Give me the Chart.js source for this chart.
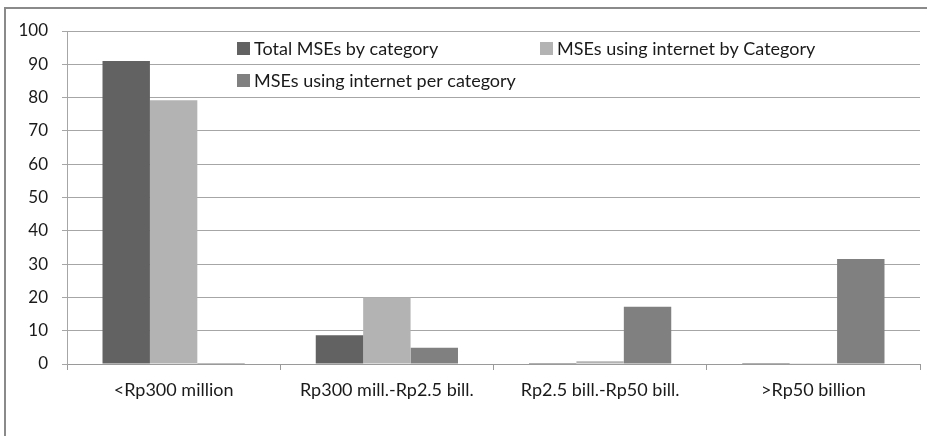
<!DOCTYPE html>
<html>
<head>
<meta charset="utf-8">
<script src="https://cdn.jsdelivr.net/npm/chart.js@4"></script>
<style>
html,body{margin:0;padding:0;background:#fff;}
#wrap{position:relative;width:927px;height:436px;}
canvas{display:block;}
</style>
</head>
<body>
<div id="wrap"><canvas id="c" width="927" height="436"></canvas></div>
<script>
const categories = ["<Rp300 million", "Rp300 mill.-Rp2.5 bill.", "Rp2.5 bill.-Rp50 bill.", ">Rp50 billion"];
const seriesNames = ["Total MSEs by category", "MSEs using internet by Category", "MSEs using internet per category"];
const totalMSEs = [91, 8.6, 0.3, 0.3];
const usingInternetByCategory = [79.2, 20, 0.8, 0.1];
const usingInternetPerCategory = [0.3, 4.9, 17.2, 31.5];
const seriesColors = ["#626262", "#b3b3b3", "#808080"];
const yTicks = [0, 10, 20, 30, 40, 50, 60, 70, 80, 90, 100];

const FONT = "Lato, 'Open Sans', sans-serif";

const frame = {
  id: 'frame',
  beforeDraw(chart) {
    const ctx = chart.ctx;
    ctx.save();
    ctx.strokeStyle = '#8a8a8a';
    ctx.lineWidth = 2;
    ctx.beginPath();
    ctx.moveTo(5, 436);
    ctx.lineTo(5, 8);
    ctx.lineTo(927, 8);
    ctx.stroke();
    ctx.restore();
  }
};

const legendPlugin = {
  id: 'innerLegend',
  afterDatasetsDraw(chart) {
    const ctx = chart.ctx;
    const a = chart.chartArea;
    const items = [
      {x: a.left + 170, y: a.top + 17},
      {x: a.left + 473, y: a.top + 17},
      {x: a.left + 170, y: a.top + 49}
    ];
    ctx.save();
    ctx.font = "18px " + FONT;
    ctx.textBaseline = 'middle';
    ctx.textAlign = 'left';
    chart.data.datasets.forEach((ds, i) => {
      const it = items[i];
      ctx.fillStyle = ds.backgroundColor;
      ctx.fillRect(it.x, it.y - 6, 13, 13);
      ctx.fillStyle = '#1a1a1a';
      ctx.fillText(ds.label, it.x + 17, it.y + 1);
    });
    ctx.restore();
  }
};

new Chart(document.getElementById('c'), {
  type: 'bar',
  data: {
    labels: categories,
    datasets: [
      {label: seriesNames[0], data: totalMSEs, backgroundColor: seriesColors[0]},
      {label: seriesNames[1], data: usingInternetByCategory, backgroundColor: seriesColors[1]},
      {label: seriesNames[2], data: usingInternetPerCategory, backgroundColor: seriesColors[2]}
    ]
  },
  options: {
    responsive: false,
    animation: false,
    devicePixelRatio: 1,
    layout: {padding: {left: 0, top: 31, right: 7, bottom: 0}},
    datasets: {bar: {categoryPercentage: 0.667, barPercentage: 1.0}},
    plugins: {legend: {display: false}, tooltip: {enabled: false}},
    scales: {
      x: {
        grid: {display: true, drawOnChartArea: false, color: '#9a9a9a', tickLength: 6, offset: true},
        border: {color: '#9a9a9a', width: 1},
        ticks: {font: {size: 18, family: FONT}, color: '#1a1a1a', padding: 9, maxRotation: 0},
        afterFit(s) { s.height = 72; }
      },
      y: {
        min: 0, max: 100,
        afterBuildTicks(s) { s.ticks = yTicks.map(v => ({value: v})); },
        grid: {color: '#a6a6a6', tickLength: 5, lineWidth: 1},
        border: {color: '#a6a6a6', width: 1},
        ticks: {font: {size: 17, family: FONT}, color: '#1a1a1a', padding: 14},
        afterFit(s) { s.width = 67; }
      }
    }
  },
  plugins: [frame, legendPlugin]
});
</script>
</body>
</html>
